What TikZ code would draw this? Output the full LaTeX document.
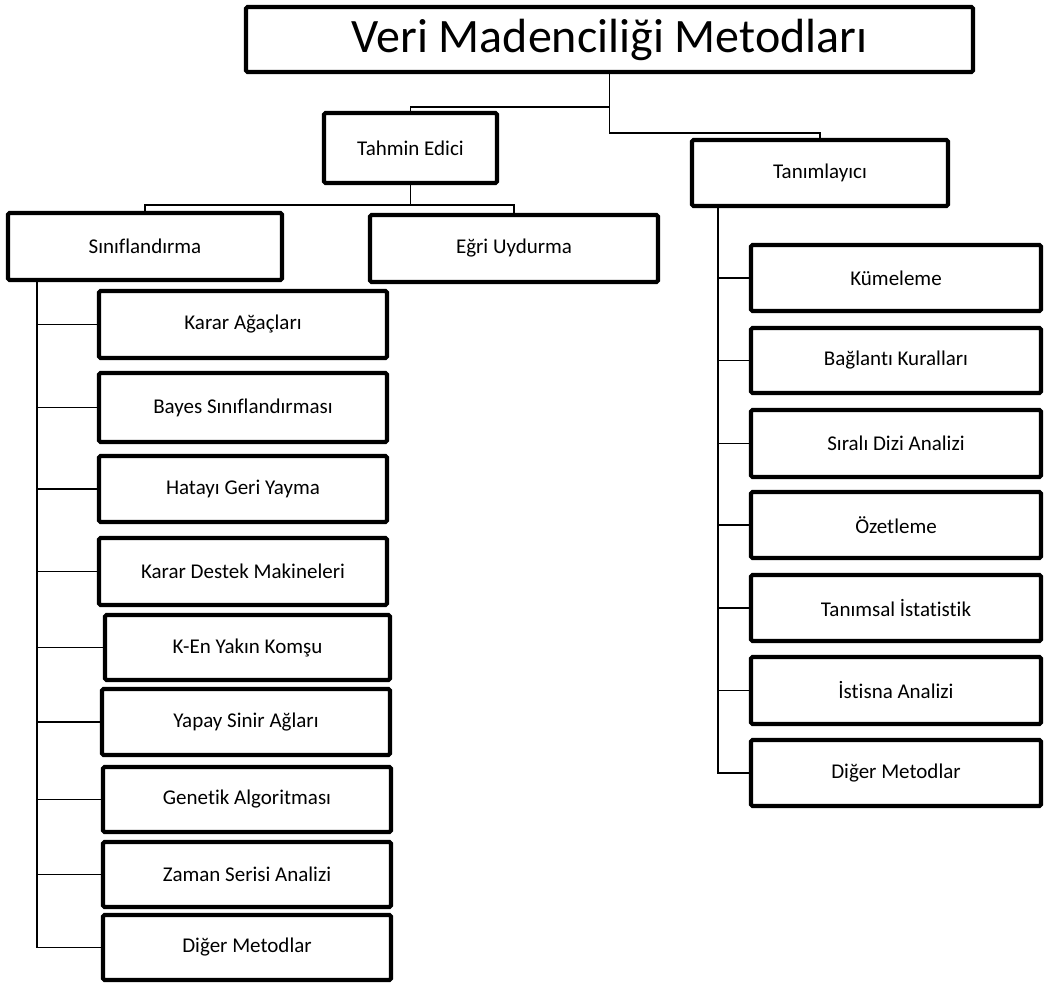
\documentclass[tikz,border=0pt]{standalone}
\usepackage{fontspec}
\setmainfont{Carlito}[Ligatures=NoCommon]
\usepackage{tikz}
\usetikzlibrary{calc, positioning}

\begin{document}
\begin{tikzpicture}[x=1pt, y=-1pt,
    box/.style={draw, line width=4.2pt, rounded corners=1.5pt, inner sep=0pt,
      font=\fontsize{21}{25}\selectfont},
    conn/.style={line width=1.8pt}]
  \useasboundingbox (0,0) rectangle (1044,985);
  % top levels
  \node (title) at (609.5,39.5) [box, minimum width=727, minimum height=65,
    font=\fontsize{48}{56}\selectfont] {Veri Madenciliği Metodları};
  \node (tahmin) at (410.5,148) [box, minimum width=173, minimum height=70] {Tahmin Edici};
  \node (tanim) at (820,173) [box, minimum width=256, minimum height=66] {Tanımlayıcı};
  \node (sinif) at (145,246.5) [box, minimum width=274, minimum height=67] {Sınıflandırma};
  \node (egri) at (514,248.5) [box, minimum width=288, minimum height=67] {Eğri Uydurma};
  % Sınıflandırma methods
  \node (karar) at (243,324.5) [box, minimum width=288, minimum height=67] {Karar Ağaçları};
  \node (bayes) at (243,407.5) [box, minimum width=288, minimum height=69] {Bayes Sınıflandırması};
  \node (hata) at (243,489) [box, minimum width=288, minimum height=66] {Hatayı Geri Yayma};
  \node (destek) at (243,571.5) [box, minimum width=288, minimum height=67] {Karar Destek Makineleri};
  \node (komsu) at (247.5,647.5) [box, minimum width=285, minimum height=65] {K-En Yakın Komşu};
  \node (yapay) at (246,722) [box, minimum width=288, minimum height=66] {Yapay Sinir Ağları};
  \node (genetik) at (247,799.5) [box, minimum width=288, minimum height=65] {Genetik Algoritması};
  \node (zaman) at (247,874.5) [box, minimum width=288, minimum height=65] {Zaman Serisi Analizi};
  \node (digerL) at (247,947.5) [box, minimum width=288, minimum height=65] {Diğer Metodlar};
  % Tanımlayıcı methods
  \node (kume) at (896,278) [box, minimum width=290, minimum height=66] {Kümeleme};
  \node (baglanti) at (896,360.5) [box, minimum width=290, minimum height=65] {Bağlantı Kuralları};
  \node (sirali) at (896,443.5) [box, minimum width=290, minimum height=67] {Sıralı Dizi Analizi};
  \node (ozet) at (896,525) [box, minimum width=290, minimum height=66] {Özetleme};
  \node (tanimsal) at (896,608) [box, minimum width=290, minimum height=66] {Tanımsal İstatistik};
  \node (istisna) at (896,690.5) [box, minimum width=290, minimum height=67] {İstisna Analizi};
  \node (digerR) at (896,773) [box, minimum width=290, minimum height=66] {Diğer Metodlar};
  % connectors
  \coordinate (levA) at (0,107);
  \coordinate (levB) at (0,133);
  \coordinate (levC) at (0,205);
  \coordinate (spineL) at (37,0);
  \coordinate (spineR) at (718,0);
  \draw [conn] (title.south) -- (title.south |- levB) -| (tanim.north);
  \draw [conn] (title.south |- levA) -| (tahmin.north);
  \draw [conn] (tahmin.south) -- (tahmin.south |- levC) -| (sinif.north);
  \draw [conn] (tahmin.south |- levC) -| (egri.north);
  \draw [conn] (sinif.south -| spineL) |- (digerL.west);
  \draw [conn] (spineL |- karar.west) -- (karar.west);
  \draw [conn] (spineL |- bayes.west) -- (bayes.west);
  \draw [conn] (spineL |- hata.west) -- (hata.west);
  \draw [conn] (spineL |- destek.west) -- (destek.west);
  \draw [conn] (spineL |- komsu.west) -- (komsu.west);
  \draw [conn] (spineL |- yapay.west) -- (yapay.west);
  \draw [conn] (spineL |- genetik.west) -- (genetik.west);
  \draw [conn] (spineL |- zaman.west) -- (zaman.west);
  \draw [conn] (tanim.south -| spineR) |- (digerR.west);
  \draw [conn] (spineR |- kume.west) -- (kume.west);
  \draw [conn] (spineR |- baglanti.west) -- (baglanti.west);
  \draw [conn] (spineR |- sirali.west) -- (sirali.west);
  \draw [conn] (spineR |- ozet.west) -- (ozet.west);
  \draw [conn] (spineR |- tanimsal.west) -- (tanimsal.west);
  \draw [conn] (spineR |- istisna.west) -- (istisna.west);
\end{tikzpicture}
\end{document}
